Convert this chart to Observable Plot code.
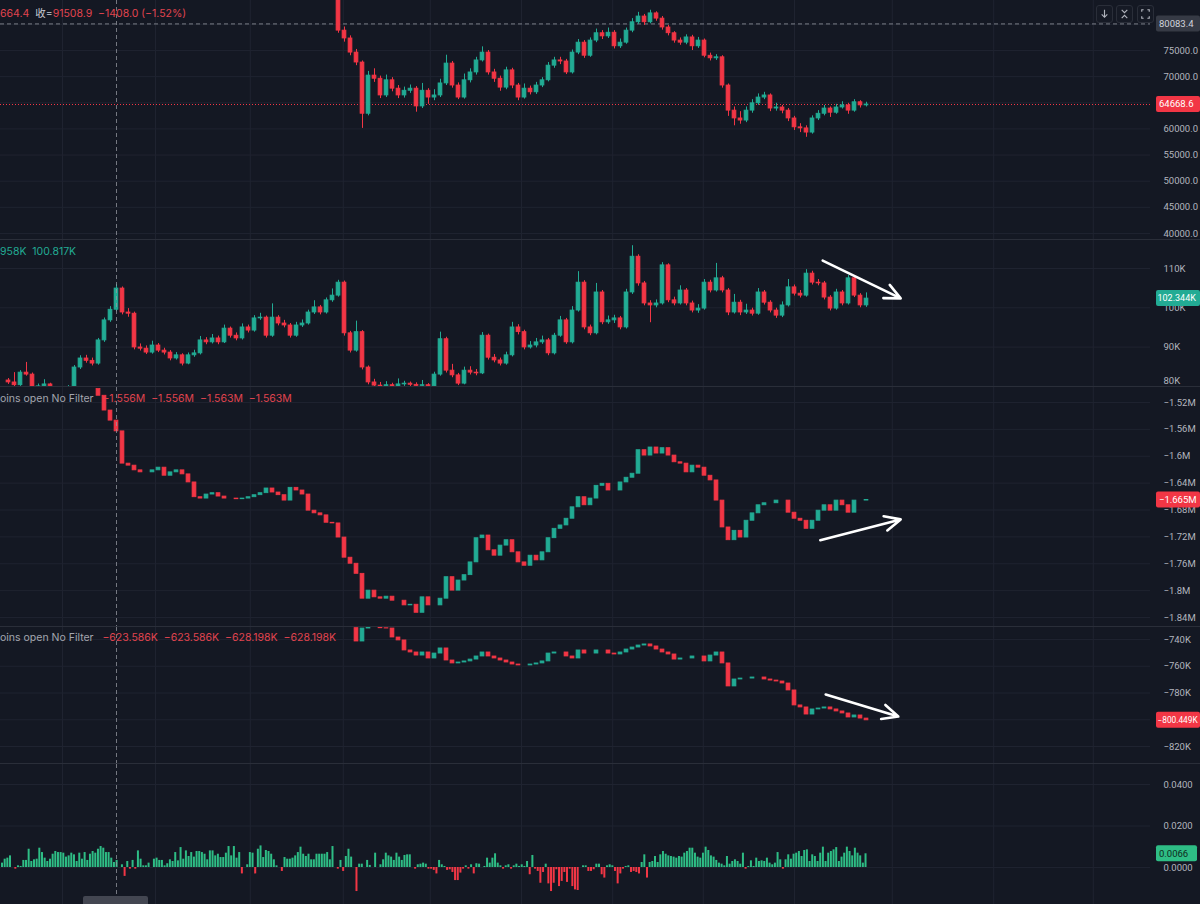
<!DOCTYPE html>
<html><head><meta charset="utf-8">
<script src="https://cdn.jsdelivr.net/npm/d3@7"></script>
<script src="https://cdn.jsdelivr.net/npm/@observablehq/plot@0.6"></script>
<style>
html,body{margin:0;padding:0;background:#141823;}
#wrap{position:relative;width:1200px;height:904px;overflow:hidden;background:#141823;font-family:Inter,"Noto Sans CJK SC",sans-serif;}
.panel{position:absolute;left:0;width:1200px;}
.sep{position:absolute;left:0;width:1200px;height:1px;background:#2a2e39;}
.hdr{position:absolute;left:0;font-size:10.5px;white-space:pre;line-height:14px;z-index:5;}
.btn{position:absolute;top:5px;width:15px;height:16px;border:1px solid #2a2e39;border-radius:3px;background:#161a25;z-index:5;}
.btn svg{display:block}
</style></head><body><div id="wrap"></div><script>
// ---------- DATA ----------
// time slots: candle t (one slot per candle), crosshair and gridlines in the same units
const gridT = [9, 24.5, 40.3, 55.8, 70.3, 85.5, 100.7, 115.8, 131, 147.3, 164.2, 180.8];
const crossT = 18;

// Panel 1: price (first value = open of first candle), starts at slot 54
const p1Start = 54;
const p1Close = [88000, 78800,77300,74600,72700,62900,70200,69600,66400,69300,67700, 66400,67300,67700,64300,67300,66000,66400,68700,72500,68300, 66000,69300,70800,73100,74600,70800,69600,67900,71200,68300, 66000,67700,67000,68300,69300,72100,73100,72900,70800,74600, 76500,74000,76900,78300,77700,78400,75800,76500,78800,80400, 81500,80400,82100,81100,79400,78300,76900,76500,77500,75800, 76900,74000,73500,73700,68300,63500,62000,61600,63500,64900, 66000,66400,63900,64100,63500,62000,60300,60100,59300,62000, 62900,63900,63100,64100,64500,63500,65100,64500,64668.6];
const p1High = [88500,79500,77800,75200,73000,71000,71500,70100,70300,69800, 68300,68000,68400,68100,68700,67700,67500,69500,74100,72900, 68800,70500,71500,73700,75700,75000,71400,70100,71800,71600, 68700,68600,68200,68900,69800,72700,73700,73700,73300,75100, 77100,76900,77400,79100,78800,79300,78800,77200,79300,81100, 82300,81900,82700,82400,81500,79800,78600,77400,78000,77900, 77500,77200,74500,74200,74000,68600,64200,63300,64200,65600, 66700,67000,66700,64900,64500,63900,62400,61000,60600,62500, 63500,64500,64200,64700,65200,64900,65600,65400,65100];
const p1Low = [78300,76600,74000,72100,60100,62500,68900,65800,66000,67100, 65800,65900,66800,63200,63900,64700,65400,66000,68300,67800, 65600,65700,68800,70300,72800,70300,68900,67200,67500,67700, 65400,65700,66500,66600,67900,69000,71600,72300,70400,70500, 74200,73500,73700,76500,77100,77300,75300,75400,76200,78400, 80000,79800,80100,80600,78900,77800,76400,76000,76100,75000, 75400,73600,73000,73100,67800,62400,60600,60900,61200,63000, 64500,65600,63300,63400,62900,61400,59700,59300,58400,59000, 61600,62500,62200,62800,63800,62800,63200,64000,64200];
const p1Ticks = [40000, 45000, 50000, 55000, 60000, 70000, 75000];
const p1Grid = [40000, 45000, 50000, 55000, 60000, 65000, 70000, 75000, 80000];
const p1Last = 64668.6, p1Cross = 80083.4;

// Panel 2 (first value = open of first candle), starts at slot -1
const p2Start = -1;
const p2Close = [81500, 81000,80300,83500,83000,79800,80000,80500,79000,78500,78800, 79500,84800,87100,86500,85800,91700,96800,99500,104900,98800, 98500,89900,89600,88600,90400,89100,88600,87100,87900,85800, 87900,88400,91700,91200,92200,91200,94700,92900,92200,95000, 94200,97300,97500,92900,97500,96000,95500,92900,95500,96000, 98800,100100,98800,101900,103100,106400,93500,89100,93800,84800, 81000,80200,80000,80300,79900,80500,80700,80400,80100,80300, 80000,83000,92000,84000,82800,80700,84000,83500,83300,92900, 87300,86600,85800,87900,95000,93800,89900,90400,91200,91700, 88400,92900,96800,91200,99300,106400,95000,93500,103900,96300, 96800,97300,95000,103900,113000,106200,101100,100600,101100,110800, 101900,101100,104400,101100,99300,99800,106400,104400,107500,104400, 98800,101300,98800,99300,98500,103900,101300,99300,98000,100600, 105200,103600,103100,108700,106400,106200,102600,99800,103900,101100, 107500,103100,100600,102344];
const p2High = [82000,83500,84000,86100,83400,80600,81700,80800,79300,79200, 80200,85300,87800,87900,87200,92200,97400,100300,105900,105300, 99800,98900,90800,90300,91500,90900,89700,89100,88600,88300, 88500,89200,92700,92400,93200,92800,95600,95100,93600,95900, 95600,98000,98600,97900,101000,98000,96800,96000,96300,96900, 99400,101800,100600,102500,104800,107000,106800,94000,96600,94200, 85200,81800,81000,81200,80800,81900,81300,81100,80900,81500, 80700,83600,93800,92500,85600,83300,84900,85000,84300,93700, 93300,88100,87200,88700,96300,95700,94300,91400,92200,92800, 92200,93500,97800,97300,100300,109200,106900,95600,106200,104400, 97900,98100,97800,104700,115800,113500,106700,101800,102000,111500, 111200,102700,105600,104900,101700,100800,107200,107000,111300,108000, 104900,103400,101900,100900,99900,104900,104400,101800,99900,101500, 107200,105800,104400,109700,109300,107200,106700,103100,104700,104400, 108200,107900,103600,103800];
const p2Low = [80500,79900,80000,82600,79200,79500,79700,78600,78000,78200, 78500,79200,84300,85900,85200,85400,91200,96300,99000,98200, 97600,89300,89000,88100,88200,88600,88000,86500,86700,85200, 85500,87400,88000,90600,90800,90600,90900,92300,91600,91800, 93600,93800,96800,92300,92500,95400,94900,92300,92500,95000, 95600,98300,98200,98400,101400,102700,92800,88500,88700,84200, 80400,79700,79500,79600,79400,79600,80000,79900,79600,79800, 79500,79700,82600,83400,82200,80200,80400,82900,82700,83000, 86700,86000,85200,85400,87500,93100,89300,89500,89800,90700, 87800,88000,92500,90700,90800,98900,94400,92900,93100,95700, 95800,96000,94400,94600,103400,105500,100500,96200,100000,100700, 101300,100500,100700,100500,98700,98600,99400,103800,104000,103800, 98000,98400,98000,98300,97900,98100,100700,98700,97300,97500, 100200,103000,102500,102700,105800,105600,102000,99200,99400,100500, 100700,102600,100000,100100];
const p2Ticks = [90000, 100000, 110000];
const p2EdgeTick = [80000];
const p2Grid = [80000, 90000, 100000, 110000];
const p2Last = 102344;

// Panel 3: coins open interest, millions (first value = open of first candle), starts at slot 14
const p3Start = 14;
const p3Close = [-1.500, -1.510,-1.532,-1.547,-1.563,-1.611, -1.614,-1.621,-1.624,-1.624,-1.621,-1.617,-1.629,-1.624,-1.621,-1.627, -1.639,-1.661,-1.663,-1.657,-1.655,-1.660,-1.663,-1.663,-1.664,-1.663, -1.661,-1.658,-1.655,-1.648,-1.654,-1.658,-1.666,-1.647,-1.651,-1.657, -1.681,-1.685,-1.688,-1.699,-1.700,-1.721,-1.751,-1.760,-1.775,-1.812, -1.800,-1.810,-1.812,-1.809,-1.815,-1.815,-1.822,-1.821,-1.833,-1.810, -1.822,-1.822,-1.812,-1.780,-1.800,-1.785,-1.777,-1.758,-1.722,-1.718, -1.740,-1.748,-1.733,-1.725,-1.743,-1.758,-1.763,-1.748,-1.755,-1.743, -1.722,-1.708,-1.703,-1.693,-1.676,-1.661,-1.673,-1.663,-1.644,-1.641, -1.651,-1.651,-1.639,-1.632,-1.626,-1.591,-1.599,-1.587,-1.596,-1.588, -1.599,-1.609,-1.611,-1.624,-1.614,-1.617,-1.629,-1.636,-1.666,-1.706, -1.725,-1.711,-1.721,-1.696,-1.685,-1.673,-1.670,-1.670,-1.666,-1.666, -1.684,-1.693,-1.696,-1.708,-1.696,-1.681,-1.673,-1.681,-1.666,-1.673, -1.684,-1.666,-1.666,-1.665];
const p3Ticks = [-1.84, -1.80, -1.76, -1.72, -1.68, -1.64, -1.60, -1.56, -1.52];
const p3Last = -1.665;

// Panel 4: coins open interest, thousands (first value = open of first candle), starts at slot 57
const p4Start = 57;
const p4Close = [-731.5, -741.5,-731.8, -731.3,-731.3,-731.6,-731.8,-738.5,-740.7,-748.2,-749.7,-752.0,-749.7, -754.2,-750.5,-746.7,-755.7,-757.9,-757.2,-756.4,-755.0,-752.7,-749.7, -752.7,-754.2,-755.7,-757.2,-758.7,-759.4,-759.4,-758.7,-757.9,-756.4, -750.5,-749.7,-749.7,-752.7,-754.2,-748.2,-750.5,-750.5,-748.2,-748.2, -750.5,-751.2,-749.7,-747.5,-746.0,-744.5,-743.7,-745.2,-747.5,-749.7, -751.2,-755.0,-754.2,-754.2,-752.7,-752.7,-756.4,-752.0,-749.7,-757.9, -775.1,-769.9,-769.2,-769.2,-768.4,-768.4,-769.9,-770.7,-771.4,-772.9, -778.1,-789.3,-790.8,-796.1,-792.3,-791.6,-790.8,-792.3,-793.8,-795.3, -798.3,-796.8,-799.1,-800.449];
const p4Ticks = [-820, -780, -760, -740];
const p4Grid = [-820, -800, -780, -760, -740];
const p4Last = -800.449;

// Panel 5: funding rate bars (finer time spacing than the candles)
const fundT0 = -1.083, fundDt = 0.4442;
const funding = [
0.0021,0.0040,0.0045,0.0056,0,-0.0008,0.0008,0.0005,0.0034,0.0034,
0.0088,0.0029,0.0037,0.0040,0.0093,0.0072,0.0045,0.0029,0.0040,0.0064,
0.0077,0.0072,0.0072,0.0069,0.0050,0.0056,0.0069,0.0061,0.0029,0.0069,
0.0040,0.0072,0.0034,0.0064,0.0077,0.0069,0.0088,0.0101,0.0093,0.0072,
0.0072,0.0045,0.0024,0.0034,0,0.0013,-0.0043,0.0029,-0.0008,0.0034,
-0.0008,0.0080,0.0040,0.0008,0.0008,0.0021,0,0.0040,0.0045,0.0034,
0.0034,0.0008,0.0018,0.0037,0.0029,0.0072,0.0032,0.0096,0.0040,0.0080,
0.0053,0.0072,0.0050,0.0077,0.0077,0.0072,0.0064,0.0037,0.0080,0.0080,
0.0056,0.0064,0.0048,0.0048,0.0069,0.0101,0.0056,0.0101,0.0045,0.0072,
-0.0031,0,0.0013,0.0072,0.0069,-0.0031,0.0088,0.0104,0.0048,0.0082,
0.0077,0.0064,0.0037,0.0008,0,-0.0019,0.0048,0.0040,0.0040,0.0045,
0.0056,0.0072,0.0098,0.0064,0.0053,0.0064,0.0037,0.0037,0.0064,0.0064,
0.0064,0.0064,0.0072,0.0037,0.0101,0,-0.0008,0.0034,-0.0019,0.0053,
0.0088,0.0050,0,-0.0116,0.0016,0.0016,0,0.0034,0.0010,0,
0.0069,0,0.0013,0.0037,0.0069,0.0056,0.0050,0.0034,0.0069,0.0050,
0.0034,0.0058,0.0061,0.0061,0,-0.0008,0.0013,
0.0016,0.0021,0.0016,-0.0008,-0.0008,-0.0014,-0.0031,0.0034,0.0013,0.0005,
-0.0014,-0.0011,-0.0024,-0.0063,-0.0063,-0.0027,-0.0008,0.0008,-0.0008,0.0013,
-0.0031,0.0018,0.0016,0,0.0005,0.0045,0.0021,0.0045,0.0066,0.0021,
0.0008,-0.0008,0.0008,0.0013,-0.0008,0.0008,0.0016,0.0005,0.0013,0.0005,
0.0029,-0.0035,0.0058,-0.0008,-0.0019,-0.0076,-0.0024,0.0016,-0.0079,-0.0116,
-0.0076,-0.0011,-0.0092,-0.0067,-0.0024,-0.0072,-0.0008,-0.0092,-0.0108,-0.0111,
0,0.0008,0.0008,-0.0019,-0.0019,-0.0011,0.0016,0.0016,-0.0035,-0.0051,
0.0008,0.0013,0.0008,-0.0019,-0.0079,-0.0031,-0.0008,0.0005,0.0008,-0.0024,
-0.0019,-0.0024,-0.0031,0.0024,0.0061,-0.0051,0.0024,0.0029,0.0053,0.0024,
0.0061,0.0077,0.0064,0.0056,0.0053,0.0050,0.0045,0.0053,0.0050,0.0069,
0.0077,0.0093,0.0093,0.0069,0.0050,0.0045,0.0069,0.0098,0.0082,0.0056,
0.0050,0.0034,0.0021,0.0016,0.0008,0.0053,0.0016,0.0029,0.0037,0.0029,
0.0016,0.0069,-0.0008,0.0005,0.0032,0.0005,0.0045,0.0029,0.0032,0.0029,
0.0045,0.0021,0.0013,0.0021,0.0072,0.0037,-0.0008,0.0037,0.0061,0.0040,
0.0064,0.0069,0.0077,0.0053,0.0082,0.0085,0.0029,0.0061,0.0053,0.0029,
0.0069,0.0098,0.0029,0.0069,0.0077,0.0085,0.0096,0.0029,0.0050,0.0069,
0.0098,0.0077,0.0056,0.0093,0.0069,0.0056,0.0021,0.0066];
const p5Ticks = [0, 0.02, 0.04];
const p5Last = 0.0066;

// hand-drawn annotation arrows (slot, value)
const arrowP2 = [{t1: 135.7, v1: 112000, t2: 148.7, v2: 102400}];
const arrowP3 = [{t1: 135.3, v1: -1.725, t2: 148.7, v2: -1.694}];
const arrowP4 = [{t1: 136.2, v1: -781.1, t2: 148.3, v2: -797.6}];

// ---------- STYLE ----------
const UP = "#22ab94", DOWN = "#f23645", FUND_UP = "#2ebd85";
const GRID = "#1f2330", AXIS_TEXT = "#b2b5be";
const FONT = "Roboto, Inter, sans-serif";
const X_DOMAIN = [-8 / 6, 1142 / 6];

const wrap = document.getElementById("wrap");

function ohlc(start, closes, highs, lows) {
  return closes.slice(1).map((c, i) => ({
    t: start + 1 + i, o: closes[i], c,
    h: highs ? highs[i] : Math.max(closes[i], c),
    l: lows ? lows[i] : Math.min(closes[i], c)
  }));
}
const col = d => d.c >= d.o ? UP : DOWN;
function candleMarks(rows, wicks) {
  const m = [];
  if (wicks) m.push(Plot.ruleX(rows, {x: "t", y1: "l", y2: "h", stroke: col, strokeWidth: 1}));
  m.push(Plot.rect(rows, {x1: d => d.t - 0.32, x2: d => d.t + 0.32, y1: "o", y2: "c", fill: col, stroke: col, strokeWidth: 0.8}));
  return m;
}

function panel(top, height, cfg) {
  const svg = Plot.plot({
    width: 1200, height,
    marginLeft: 0, marginRight: 50, marginTop: 0, marginBottom: 0,
    style: {background: "transparent", overflow: "hidden", color: AXIS_TEXT, fontFamily: FONT, fontSize: "9.5px"},
    x: {domain: X_DOMAIN, axis: null},
    y: {domain: cfg.yDomain, axis: null},
    marks: [
      Plot.gridX({ticks: gridT, stroke: GRID, strokeOpacity: 1}),
      Plot.gridY({ticks: cfg.grid || cfg.ticks, stroke: GRID, strokeOpacity: 1}),
      ...(cfg.before || []),
      ...cfg.marks,
      Plot.ruleX([crossT], {stroke: "#9598a1", strokeDasharray: "4,3", strokeOpacity: 0.75}),
      ...(cfg.after || []),
      Plot.axisY({ticks: cfg.ticks, anchor: "right", tickSize: 0, tickPadding: 13, tickFormat: cfg.fmt, label: null}),
      ...(cfg.edge ? [Plot.axisY({ticks: cfg.edge, anchor: "right", tickSize: 0, tickPadding: 13, tickFormat: cfg.fmt, label: null, dy: -5})] : [])
    ]
  });
  const div = document.createElement("div");
  div.className = "panel";
  div.style.top = top + "px";
  div.style.height = height + "px";
  div.appendChild(svg);
  wrap.appendChild(div);
  return svg;
}

function tag(svg, value, text, bg, fg, w, fs) {
  const y = svg.scale("y").apply(value);
  const g = d3.select(svg).append("g").attr("text-anchor", "start");
  g.append("rect").attr("x", 1156).attr("y", y - 8).attr("width", w || 44).attr("height", 16).attr("rx", 2).attr("fill", bg);
  g.append("text").attr("x", fs ? 1157.5 : 1159).attr("y", y).attr("dy", "0.35em").attr("fill", fg)
    .attr("font-size", fs || 9.5).attr("font-family", FONT).text(text);
}

function arrowMark(data) {
  return Plot.arrow(data, {x1: "t1", y1: "v1", x2: "t2", y2: "v2", stroke: "white", strokeWidth: 2.6, headLength: 10, headAngle: 50});
}

// ---------- PANELS ----------
const s1 = panel(0, 239, {
  yDomain: [38848, 84564], ticks: p1Ticks, grid: p1Grid, fmt: d => d.toFixed(1),
  before: [
    Plot.ruleY([p1Last], {stroke: DOWN, strokeDasharray: "1,2", strokeWidth: 1}),
    Plot.ruleY([p1Cross], {stroke: "#9598a1", strokeDasharray: "4,3", strokeOpacity: 0.8})
  ],
  marks: candleMarks(ohlc(p1Start, p1Close, p1High, p1Low), true)
});
tag(s1, p1Cross, "80083.4", "#363a45", "#d1d4dc");
tag(s1, p1Last, "64668.6", DOWN, "#ffffff");

const s2 = panel(240, 146, {
  yDomain: [79969, 117126], ticks: p2Ticks, grid: p2Grid, edge: p2EdgeTick, fmt: d => (d / 1000) + "K",
  marks: candleMarks(ohlc(p2Start, p2Close, p2High, p2Low), true),
  after: [arrowMark(arrowP2)]
});
tag(s2, p2Last, "102.344K", UP, "#ffffff", 44, 9);

const s3 = panel(387, 239, {
  yDomain: [-1.8534, -1.4977], ticks: p3Ticks, fmt: d => d3.format(".3~f")(d) + "M",
  marks: candleMarks(ohlc(p3Start, p3Close), false),
  after: [arrowMark(arrowP3)]
});
tag(s3, p3Last, "\u22121.665M", DOWN, "#ffffff");

const s4 = panel(627, 136, {
  yDomain: [-832.71, -731.03], ticks: p4Ticks, grid: p4Grid, fmt: d => d3.format("~f")(d) + "K",
  marks: candleMarks(ohlc(p4Start, p4Close), false),
  after: [arrowMark(arrowP4)]
});
tag(s4, p4Last, "\u2212800.449K", DOWN, "#ffffff", 44, 8.3);

const fundRows = funding.map((v, j) => ({t: fundT0 + j * fundDt, v}));
const s5 = panel(764, 140, {
  yDomain: [-0.01784, 0.04964], ticks: p5Ticks, fmt: d => d.toFixed(4),
  marks: [Plot.ruleX(fundRows, {x: "t", y1: 0, y2: "v", stroke: d => d.v >= 0 ? FUND_UP : DOWN, strokeWidth: 2})]
});
tag(s5, p5Last, "0.0066", FUND_UP, "#0e2a20", 41);

// separators
[239, 386, 626, 763].forEach(y => {
  const d = document.createElement("div"); d.className = "sep"; d.style.top = y + "px"; wrap.appendChild(d);
});

// legends / headers
function hdr(top, html) {
  const d = document.createElement("div"); d.className = "hdr"; d.style.top = top + "px"; d.innerHTML = html; wrap.appendChild(d);
}
const R = "#e0444f", G = "#22ab94", Y = "#a3a6af";
hdr(7, `<span style="color:${R}">664.4</span>  <span style="color:#c9ccd4">收=</span><span style="color:${R}">91508.9  \u22121408.0 (\u22121.52%)</span>`);
hdr(245, `<span style="color:${G}">958K  100.817K</span>`);
hdr(392, `<span style="color:${Y}">oins open No Filter</span>   <span style="color:${R}">\u22121.556M  \u22121.556M  \u22121.563M  \u22121.563M</span>`);
hdr(631, `<span style="color:${Y}">oins open No Filter</span>   <span style="color:${R}">\u2212623.586K  \u2212623.586K  \u2212628.198K  \u2212628.198K</span>`);

// toolbar buttons
const icons = [
  '<path d="M8 4V12M5 9L8 12L11 9" />',
  '<path d="M5 4L8 7L11 4M5 13L8 10L11 13" />',
  '<path d="M4 6V4H6M10 4H12V6M12 11V13H10M6 13H4V11" />'
];
[1096, 1116, 1137].forEach((x, i) => {
  const b = document.createElement("div"); b.className = "btn"; b.style.left = x + "px";
  b.innerHTML = `<svg width="15" height="16" viewBox="0 0 16 17" fill="none" stroke="#b2b5be" stroke-width="1.2">${icons[i]}</svg>`;
  wrap.appendChild(b);
});
// crosshair time label (cut off at bottom)
const tl = document.createElement("div");
tl.style.cssText = "position:absolute;left:83px;top:896px;width:65px;height:10px;background:#434651;border-radius:2px;z-index:5";
wrap.appendChild(tl);
</script></body></html>
